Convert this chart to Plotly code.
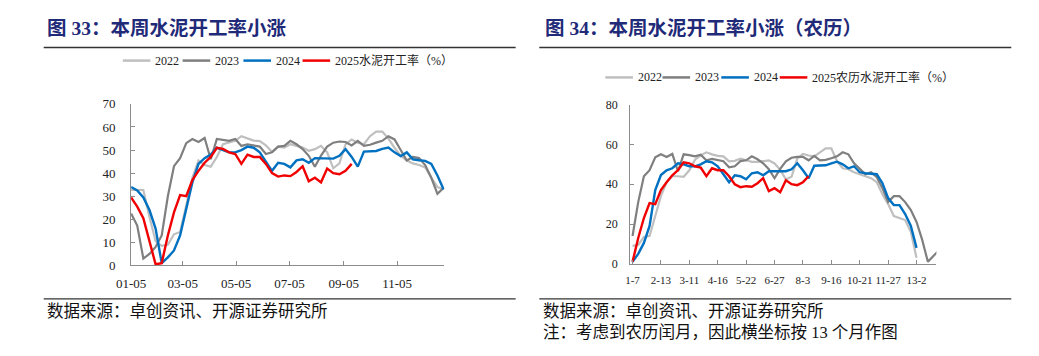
import plotly.graph_objects as go
import pandas as pd

# page is 1039x356; body keeps its default 8px margin, so the figure is 1023x340
OFF = 8
FW, FH = 1039 - 2 * OFF, 356 - 2 * OFF

# ---------------- left chart: weekly, on 2025 calendar ----------------
week_dates = pd.date_range("2025-01-05", periods=52, freq="7D")
left_ticks = ["2025-01-05", "2025-03-05", "2025-05-05", "2025-07-05", "2025-09-05", "2025-11-05"]

left_2022 = [32.7, 32.7, 32.7, 21, 10.5, 8.5, 9, 13.5, 14.5, 26, 38, 45.5, 43.5, 42.8, 47, 52.5,
             53.2, 54, 56, 55, 54.1, 53.9, 52, 49.3, 51.5, 51.1, 52.5, 51.8, 51.1, 49.7, 50.4, 51.8,
             49, 42.1, 44.2, 52.5, 54.6, 53.2, 52.5, 56, 58, 58, 55, 51, 47.5, 45.5, 44.2,
             43.5, 42.5, 38, 34, 33]
left_2023 = [22.5, 17.3, 3, 5, 8, 13, 30, 43, 46.5, 53, 54.8, 53.5, 55.2, 46, 54.8, 54.5, 54, 54.8,
             51.8, 52.5, 52, 51.5, 48.3, 49, 51.5, 51.8, 54, 52.5, 50.4, 47.5, 42.8, 47.6, 51.5,
             53.2, 53.7, 53.5, 52, 54, 51.8, 52.3, 53.2, 54, 56, 54.6, 50, 45.5, 47, 46.5, 43.5,
             38, 31, 33.6]
left_2024 = [34, 32.5, 29.5, 24, 16, 1, 3.5, 6.5, 13, 24, 36, 44, 46.5, 48, 51, 50, 49, 49, 50, 51.5,
             51, 49, 45, 41, 44.5, 44, 42.5, 45.5, 46, 44.5, 46.5, 46.5, 46.5, 46.3, 47.5, 50.4, 47,
             42.8, 49.3, 49.3, 49.6, 50.5, 51.1, 49, 47.4, 49, 46, 45.6, 45.3, 44, 39, 33]
left_2025 = [29.5, 25.5, 20.5, 10, 0.5, 1, 13, 23, 30.5, 30, 37, 41, 44.5, 47, 51, 50.5, 49, 48.3,
             44, 48, 47, 47, 44, 40, 38.5, 39, 38.7, 40.5, 43, 36.5, 38, 36, 42, 40, 39.5, 41, 44]

# ---------------- right chart: lunar-calendar weeks ----------------
lunar_labels = ["1-7", "2-13", "3-11", "4-16", "5-22", "6-27", "8-3", "9-16", "10-21", "11-27", "13-2"]
lunar_tickpos = [0, 5, 10, 15, 20, 25, 30, 35, 40, 45, 50]

right_2022 = [9, 9.5, 13.5, 14, 24, 34, 41, 44, 44, 43.7, 47, 52.3, 54.5, 56, 55, 54.2, 54, 51.5,
              51.7, 52.8, 52, 51.2, 51.2, 51.5, 52, 50.4, 47.2, 42.4, 43.7, 52.8, 55.2, 54.4, 54, 56,
              58, 58, 51.5, 48, 47.5, 46, 44.8, 44, 43, 41, 35, 30, 24, 23, 22, 16, 3]
right_2023 = [14, 31, 44, 47, 53.5, 55, 53.7, 55.2, 46.5, 55, 54.6, 54, 54.8, 52, 52.7, 52, 51.5, 48.5,
              49, 51.6, 52, 54, 52.5, 50.5, 47.5, 43, 47.7, 51.5, 53.3, 53.7, 53.7, 52, 54.2, 52,
              52.2, 53, 54, 56, 55, 50.5, 47.5, 45, 46, 43.5, 38, 31, 34, 34, 31, 27, 21, 12, 1, 4, 7]
right_2024 = [1, 5, 10.5, 19, 37, 44.6, 47, 48, 50.5, 50, 49, 49, 50, 51.5, 51, 49, 45, 41, 44.5, 44,
              42.5, 45.5, 46, 44.5, 46.5, 46.5, 46.5, 46.5, 47.5, 50.5, 47, 43, 49.3, 49.3, 49.5, 50.5,
              51.3, 50, 48, 49, 46, 45.5, 45.3, 45, 40.5, 33, 29.5, 29.5, 25, 19, 8]
right_2025 = [1, 13, 23, 30.5, 30, 37, 41, 44.5, 47, 51, 50.5, 49, 48.3, 44, 48, 47, 47, 44, 40, 38.5,
              39, 38.7, 40.5, 43, 36.5, 38, 36, 42, 40, 39.5, 41, 44]

names = ["2022", "2023", "2024"]
left_last_name = "2025水泥开工率（%）"
right_last_name = "2025农历水泥开工率（%）"
colors = ["#BFBFBF", "#7F7F7F", "#0070C0", "#F00000"]
widths = [2.2, 2.2, 2.4, 2.4]

TXT = "Liberation Serif, Noto Sans CJK SC, serif"
AX = "#8C8C8C"

fig = go.Figure()
left_series = [left_2022, left_2023, left_2024, left_2025]
right_series = [right_2022, right_2023, right_2024, right_2025]
left_names = names + [left_last_name]
right_names = names + [right_last_name]

for s, nm, c, w in zip(left_series, left_names, colors, widths):
    fig.add_trace(go.Scatter(x=week_dates[:len(s)], y=s, name=nm, mode="lines",
                             line=dict(color=c, width=w), xaxis="x", yaxis="y",
                             showlegend=False, hoverinfo="skip"))
for s, nm, c, w in zip(right_series, right_names, colors, widths):
    fig.add_trace(go.Scatter(x=list(range(len(s))), y=s, name=nm, mode="lines",
                             line=dict(color=c, width=w), xaxis="x2", yaxis="y2",
                             showlegend=False, hoverinfo="skip"))

def px(x):
    return (x - OFF) / FW

def py(y):
    return 1 - (y - OFF) / FH

axis_common = dict(showgrid=False, zeroline=False, showline=True, linecolor=AX, linewidth=1,
                   ticks="inside", tickcolor=AX, ticklen=4, tickwidth=1)

fig.update_layout(
    width=FW, height=FH, autosize=False,
    margin=dict(l=0, r=0, t=0, b=0),
    paper_bgcolor="white", plot_bgcolor="white",
    xaxis=dict(domain=[px(117.7), px(435.7)], anchor="y", type="date",
               range=["2025-01-05", "2025-12-29"], tickvals=left_ticks, tickformat="%m-%d",
               tickfont=dict(family=TXT, size=13, color="#222"), ticklabelstandoff=6, **axis_common),
    yaxis=dict(domain=[py(270), py(101)], anchor="x", range=[0, 70], dtick=10,
               tickfont=dict(family=TXT, size=13, color="#222"), ticklabelstandoff=12, **axis_common),
    xaxis2=dict(domain=[px(624.3), px(935)], anchor="y2", range=[-0.4, 53.5],
                tickvals=lunar_tickpos, ticktext=lunar_labels,
                tickfont=dict(family=TXT, size=11, color="#222"), ticklabelstandoff=6, **axis_common),
    yaxis2=dict(domain=[py(268.3), py(101.7)], anchor="x2", range=[0, 80], dtick=20,
                tickfont=dict(family=TXT, size=12, color="#222"), ticklabelstandoff=9, **axis_common),
)

shapes = []
annos = []
TITLE_C = "#1F2A78"
annos.append(dict(x=px(30), y=py(22), xref="paper", yref="paper", xanchor="left", yanchor="middle",
                  text="<b>图 33：本周水泥开工率小涨</b>", showarrow=False,
                  font=dict(family=TXT, size=19.5, color=TITLE_C)))
annos.append(dict(x=px(536), y=py(22), xref="paper", yref="paper", xanchor="left", yanchor="middle",
                  text="<b>图 34：本周水泥开工率小涨（农历）</b>", showarrow=False,
                  font=dict(family=TXT, size=19.5, color=TITLE_C)))
for x0, x1 in [(29, 508), (532, 1011)]:
    for yy in (42, 305):
        shapes.append(dict(type="line", xref="paper", yref="paper", x0=px(x0), x1=px(x1),
                           y0=py(yy), y1=py(yy), line=dict(color="#333333", width=1.3)))
src = "数据来源：卓创资讯、开源证券研究所"
for sx in (30, 534):
    annos.append(dict(x=px(sx), y=py(318), xref="paper", yref="paper", xanchor="left", yanchor="middle",
                      text=src, showarrow=False, font=dict(family=TXT, size=16.5, color="#111")))
annos.append(dict(x=px(534), y=py(340), xref="paper", yref="paper", xanchor="left", yanchor="middle",
                  text="注：考虑到农历闰月，因此横坐标按 13 个月作图", showarrow=False,
                  font=dict(family=TXT, size=16.5, color="#111")))

def legend(starts, yy, labels):
    for x0, lab, c in zip(starts, labels, colors):
        shapes.append(dict(type="line", xref="paper", yref="paper", x0=px(x0), x1=px(x0 + 28),
                           y0=py(yy), y1=py(yy), line=dict(color=c, width=2.5)))
        annos.append(dict(x=px(x0 + 31), y=py(yy), xref="paper", yref="paper", xanchor="left",
                          yanchor="middle", text=lab, showarrow=False,
                          font=dict(family=TXT, size=12, color="#222")))

legend([109.3, 170, 231.7, 291.7], 55.7, left_names)
legend([599, 657, 716.7, 776], 73.3, right_names)

fig.update_layout(shapes=shapes, annotations=annos)

fig.write_html("out.html", config={"displayModeBar": False})
